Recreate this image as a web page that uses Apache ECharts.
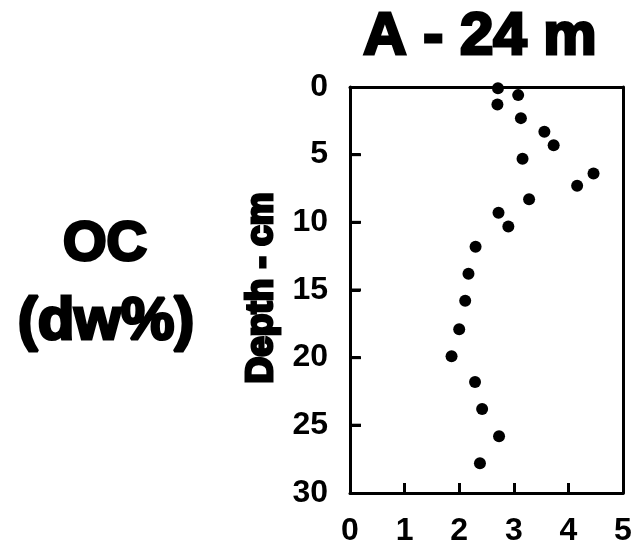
<!DOCTYPE html>
<html>
<head>
<meta charset="utf-8">
<script src="https://cdn.jsdelivr.net/npm/echarts@6/dist/echarts.min.js"></script>
<style>
  html, body { margin: 0; padding: 0; background: #fff; }
  #chart { width: 636px; height: 549px; }
</style>
</head>
<body>
<div id="chart"></div>
<script>
// OC (dw%) against depth, station A - 24 m
var ocValues = [2.71, 3.08, 2.70, 3.13, 3.56, 3.73, 3.16, 4.46, 4.16, 3.28, 2.72, 2.90, 2.30, 2.17, 2.11, 2.00, 1.86, 2.29, 2.42, 2.73, 2.38];
var depthValues = [0.1, 0.6, 1.3, 2.3, 3.3, 4.3, 5.3, 6.4, 7.3, 8.3, 9.3, 10.3, 11.8, 13.8, 15.8, 17.9, 19.9, 21.8, 23.8, 25.8, 27.8];
var xTicks = [0, 1, 2, 3, 4, 5];
var yTicks = [0, 5, 10, 15, 20, 25, 30];

var points = [];
for (var i = 0; i < ocValues.length; i++) {
  points.push([ocValues[i], depthValues[i]]);
}

// inner y ticks, drawn at the depth tick values
var yTickMarks = [];
for (var j = 1; j < yTicks.length - 1; j++) {
  yTickMarks.push([xTicks[0], yTicks[j]]);
}

var font = '"Liberation Sans", Arial, sans-serif';

function lineStyle() {
  return { color: '#000', width: 3 };
}
function labelStyle() {
  return { margin: 22, color: '#000', fontSize: 32, fontWeight: 'bold', fontFamily: font };
}

var chart = echarts.init(document.getElementById('chart'));

chart.setOption({
  animation: false,
  backgroundColor: '#fff',
  grid: { left: 350, top: 87, width: 273, height: 406 },
  xAxis: [
    {
      type: 'value', position: 'bottom',
      min: xTicks[0], max: xTicks[xTicks.length - 1], interval: 1,
      splitLine: { show: false },
      axisLine: { show: true, onZero: false, lineStyle: lineStyle() },
      axisTick: { show: true, inside: true, length: 10, lineStyle: lineStyle() },
      axisLabel: labelStyle()
    },
    {
      // top border
      type: 'value', position: 'top',
      min: xTicks[0], max: xTicks[xTicks.length - 1], interval: 1,
      splitLine: { show: false },
      axisLine: { show: true, onZero: false, lineStyle: lineStyle() },
      axisTick: { show: false }, axisLabel: { show: false }
    }
  ],
  yAxis: [
    {
      type: 'value', position: 'left', inverse: true,
      min: yTicks[0], max: yTicks[yTicks.length - 1], interval: 5,
      splitLine: { show: false },
      axisLine: { show: true, onZero: false, lineStyle: lineStyle() },
      axisTick: { show: true, inside: true, length: 10, lineStyle: lineStyle() },
      axisLabel: labelStyle()
    },
    {
      // right border
      type: 'value', position: 'right', inverse: true,
      min: yTicks[0], max: yTicks[yTicks.length - 1], interval: 5,
      splitLine: { show: false },
      axisLine: { show: true, onZero: false, lineStyle: lineStyle() },
      axisTick: { show: false }, axisLabel: { show: false }
    }
  ],
  graphic: [
    {
      type: 'text', x: 480, y: 37,
      style: { text: 'A - 24 m', fill: '#000', font: 'bold 60px ' + font, textAlign: 'center', textVerticalAlign: 'middle' }
    },
    {
      type: 'text', x: 105, y: 245,
      style: { text: 'OC', fill: '#000', font: 'bold 56px ' + font, textAlign: 'center', textVerticalAlign: 'middle' }
    },
    {
      type: 'text', x: 106, y: 322,
      style: { text: '(dw%)', fill: '#000', font: 'bold 60px ' + font, textAlign: 'center', textVerticalAlign: 'middle' }
    },
    {
      type: 'text', x: 262, y: 288, rotation: Math.PI / 2,
      style: { text: 'Depth - cm', fill: '#000', font: 'bold 37px ' + font, textAlign: 'center', textVerticalAlign: 'middle' }
    }
  ],
  series: [
    {
      type: 'custom',
      xAxisIndex: 0,
      yAxisIndex: 0,
      data: yTickMarks,
      clip: false,
      silent: true,
      z: 100,
      renderItem: function (params, api) {
        var p = api.coord([api.value(0), api.value(1)]);
        return {
          type: 'line',
          z2: 100,
          shape: { x1: p[0], y1: p[1], x2: p[0] + 11, y2: p[1] },
          style: { stroke: '#000', lineWidth: 3 }
        };
      }
    },
    {
      type: 'scatter',
      xAxisIndex: 0,
      yAxisIndex: 0,
      data: points,
      symbol: 'circle',
      symbolSize: 12,
      itemStyle: { color: '#000', opacity: 1 }
    }
  ]
});

// y ticks again as graphic lines, placed through the axis scale
var tickLines = [];
for (var k = 0; k < yTickMarks.length; k++) {
  var p = chart.convertToPixel({ xAxisIndex: 0, yAxisIndex: 0 }, yTickMarks[k]);
  tickLines.push({
    type: 'line',
    z: 100,
    shape: { x1: p[0], y1: p[1], x2: p[0] + 11, y2: p[1] },
    style: { stroke: '#000', lineWidth: 3 }
  });
}
var texts = chart.getOption().graphic[0].elements;
chart.setOption({
  graphic: { elements: tickLines }
});
</script>
</body>
</html>
